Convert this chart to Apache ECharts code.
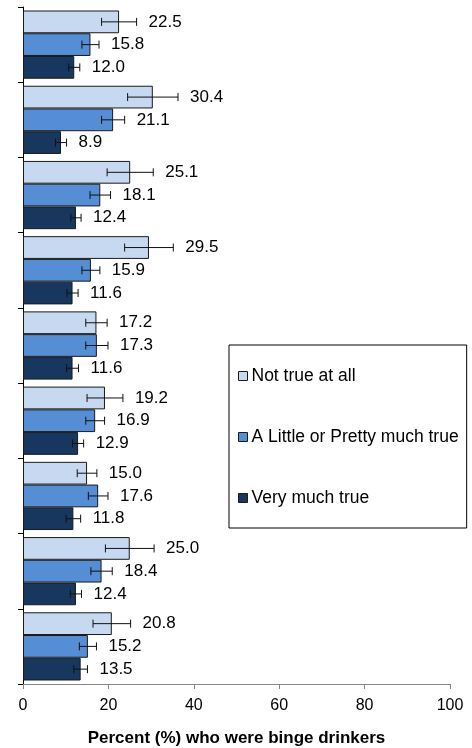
<!DOCTYPE html>
<html>
<head>
<meta charset="utf-8">
<script src="https://cdn.jsdelivr.net/npm/echarts@6/dist/echarts.min.js"></script>
<style>
  html, body { margin: 0; padding: 0; background: #fff; }
  #chart { width: 472px; height: 748px; }
</style>
</head>
<body>
<div id="chart"></div>
<script>
// Groups (unlabelled on the chart), top to bottom
const categories = ['1', '2', '3', '4', '5', '6', '7', '8', '9'];

const seriesNames = ['Not true at all', 'A Little or Pretty much true', 'Very much true'];

// Percent who were binge drinkers, with error-bar half widths
const notTrue       = [22.5, 30.4, 25.1, 29.5, 17.2, 19.2, 15.0, 25.0, 20.8];
const notTrueErr    = [4.1, 5.9, 5.4, 5.7, 2.5, 4.2, 2.3, 5.7, 4.4];
const littleTrue    = [15.8, 21.1, 18.1, 15.9, 17.3, 16.9, 17.6, 18.4, 15.2];
const littleTrueErr = [2.0, 2.7, 2.4, 2.1, 2.6, 2.2, 2.3, 2.5, 2.0];
const veryTrue      = [12.0, 8.9, 12.4, 11.6, 11.6, 12.9, 11.8, 12.4, 13.5];
const veryTrueErr   = [1.3, 1.3, 1.2, 1.3, 1.4, 1.3, 1.7, 1.3, 1.6];

const xTicks = [0, 20, 40, 60, 80, 100];

const values = [notTrue, littleTrue, veryTrue];
const errors = [notTrueErr, littleTrueErr, veryTrueErr];
const colors = ['#C6D9F1', '#558ED5', '#17375E'];

const CAT_GAP = 0.093;
const FONT = '"Liberation Sans", Arial, sans-serif';

const chart = echarts.init(document.getElementById('chart'), null, { renderer: 'canvas' });

// Error bar with caps plus the value label just past its right end
function errorRenderer(sIdx) {
  return function (params, api) {
    const cat = api.value(0);
    const v = api.value(1);
    const e = api.value(2);
    const center = api.coord([v, cat]);
    const band = api.size([0, 1])[1];
    const barW = band * (1 - CAT_GAP) / 3;
    const y = center[1] + (sIdx - 1) * barW;
    const x0 = api.coord([v - e, cat])[0];
    const x1 = api.coord([v + e, cat])[0];
    const cap = 4;
    const style = { stroke: '#111', lineWidth: 1 };
    return {
      type: 'group',
      children: [
        { type: 'line', shape: { x1: x0, y1: y, x2: x1, y2: y }, style },
        { type: 'line', shape: { x1: x0, y1: y - cap, x2: x0, y2: y + cap }, style },
        { type: 'line', shape: { x1: x1, y1: y - cap, x2: x1, y2: y + cap }, style },
        {
          type: 'text',
          x: x1 + 12,
          y: y,
          style: {
            text: v.toFixed(1),
            font: '17px ' + FONT,
            fill: '#000',
            verticalAlign: 'middle',
            align: 'left'
          }
        }
      ]
    };
  };
}

const barSeries = values.map((vals, i) => ({
  type: 'bar',
  name: seriesNames[i],
  data: vals,
  barGap: '0%',
  barCategoryGap: (CAT_GAP * 100) + '%',
  itemStyle: { color: colors[i], borderColor: '#1a1a1a', borderWidth: 1 },
  z: 2
}));

const errSeries = values.map((vals, i) => ({
  type: 'custom',
  name: 'err' + i,
  renderItem: errorRenderer(i),
  encode: { x: 1, y: 0 },
  data: vals.map((v, k) => [k, v, errors[i][k]]),
  z: 5,
  silent: true
}));

chart.setOption({
  animation: false,
  backgroundColor: '#fff',
  grid: { left: 23, right: 22, top: 7, bottom: 64, containLabel: false, outerBoundsMode: 'none' },
  legend: {
    data: seriesNames,
    orient: 'vertical',
    left: 229,
    top: 345,
    padding: [22, 8, 21, 9],
    itemGap: 43,
    itemWidth: 9,
    itemHeight: 9,
    icon: 'rect',
    itemStyle: { borderColor: '#1a1a1a', borderWidth: 1 },
    borderColor: '#000',
    borderWidth: 1,
    textStyle: { fontFamily: FONT, fontSize: 17.5, color: '#000', padding: [0, 0, 0, -1] }
  },
  xAxis: {
    type: 'value',
    min: xTicks[0],
    max: xTicks[xTicks.length - 1],
    interval: xTicks[1] - xTicks[0],
    splitLine: { show: false },
    axisLine: { show: true, lineStyle: { color: '#868686', width: 1 } },
    axisTick: { show: true, length: 5, lineStyle: { color: '#868686' } },
    axisLabel: { fontFamily: FONT, fontSize: 16, color: '#000', margin: 14 },
    name: 'Percent (%) who were binge drinkers',
    nameLocation: 'middle',
    nameGap: 46,
    nameTextStyle: { fontFamily: FONT, fontSize: 17, fontWeight: 'bold', color: '#000' }
  },
  yAxis: {
    type: 'category',
    data: categories,
    inverse: true,
    axisLine: { show: true, onZero: false, lineStyle: { color: '#000', width: 1 } },
    axisTick: { show: true, length: 5, interval: 0, lineStyle: { color: '#000' } },
    axisLabel: { show: false },
    splitLine: { show: false }
  },
  series: barSeries.concat(errSeries)
});
</script>
</body>
</html>
